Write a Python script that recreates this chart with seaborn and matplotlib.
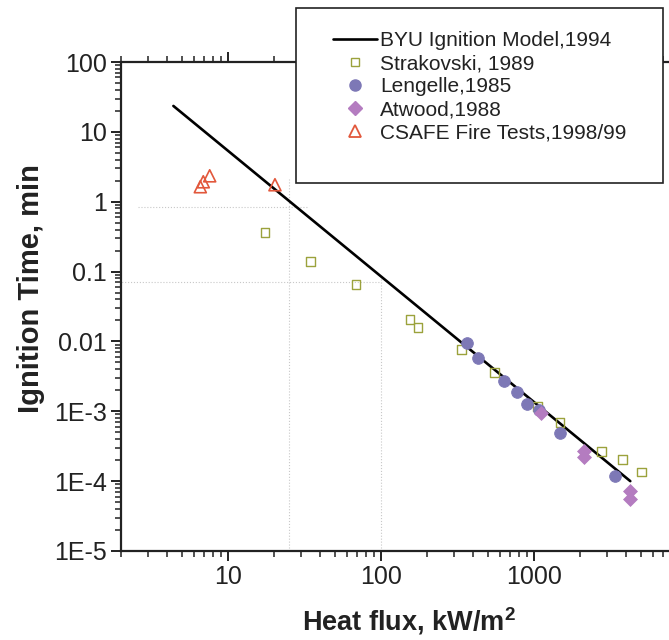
import matplotlib
matplotlib.use("Agg")
import matplotlib.pyplot as plt
import seaborn as sns
from matplotlib.ticker import FixedLocator, FixedFormatter, LogLocator, NullFormatter
from matplotlib.patches import Rectangle
from matplotlib.lines import Line2D

# BYU ignition model (straight line on log-log axes)
model_flux = [4.4, 4270]
model_time = [23.5, 1.0e-4]

# Strakovski, 1989
strak_flux = [17.5, 34.8, 68.7, 155, 175, 338, 556, 1062, 1480, 2780, 3815, 5080]
strak_time = [0.36, 0.139, 0.065, 0.0206, 0.0158, 0.0077, 0.0036, 1.18e-3, 6.97e-4, 2.68e-4, 2.06e-4, 1.35e-4]

# Lengelle, 1985
leng_flux = [365, 430, 637, 774, 900, 1080, 1480, 3380]
leng_time = [9.4e-3, 5.7e-3, 2.68e-3, 1.87e-3, 1.26e-3, 1.05e-3, 4.85e-4, 1.18e-4]

# Atwood, 1988
atw_flux = [1120, 2120, 2120, 4240, 4240]
atw_time = [9.5e-4, 2.68e-4, 2.2e-4, 7.2e-5, 5.5e-5]

# CSAFE fire tests, 1998/99
csafe_flux = [6.6, 6.9, 7.6, 20.3]
csafe_time = [1.64, 1.93, 2.35, 1.75]

y_ticks = [1e-5, 1e-4, 1e-3, 1e-2, 1e-1, 1, 10, 100]
y_tick_labels = ['1E-5', '1E-4', '1E-3', '0.01', '0.1', '1', '10', '100']
x_ticks = [10, 100, 1000]
x_tick_labels = ['10', '100', '1000']

labels = ['BYU Ignition Model,1994', 'Strakovski, 1989', 'Lengelle,1985',
          'Atwood,1988', 'CSAFE Fire Tests,1998/99']

c_strak = '#9ba23c'
c_leng = '#7d78b6'
c_atw = '#b47cc0'
c_csafe = '#e2583c'

sns.set_style("ticks")
plt.rcParams['font.family'] = ['Liberation Sans', 'DejaVu Sans']

fig = plt.figure(figsize=(6.69, 6.40), dpi=100)
ax = fig.add_axes([121 / 669, 89 / 640, 551 / 669, 489 / 640])

ax.set_xscale('log')
ax.set_yscale('log')
ax.set_xlim(2, 8000)
ax.set_ylim(1e-5, 100)

# faint cross-hair lines seen in the original
for yv, x0, x1 in [(0.85, 0.03, 0.34), (0.07, -0.03, 0.47)]:
    ax.axhline(yv, x0, x1, color='#c8c8c8', lw=0.8, ls=':', zorder=0)
for xv, y0, y1 in [(25, 0, 0.76), (100, 0, 0.56)]:
    ax.axvline(xv, y0, y1, color='#c8c8c8', lw=0.8, ls=':', zorder=0)

sns.lineplot(x=model_flux, y=model_time, color='black', linewidth=1.9, ax=ax, zorder=3)

sns.scatterplot(x=strak_flux, y=strak_time, marker='s', s=40, color=c_strak, ax=ax, zorder=4)
ax.collections[-1].set_facecolor('none')
ax.collections[-1].set_edgecolor(c_strak)
ax.collections[-1].set_linewidth(1.0)

sns.scatterplot(x=leng_flux, y=leng_time, marker='o', s=70, color=c_leng, edgecolor=c_leng, ax=ax, zorder=5)
sns.scatterplot(x=atw_flux, y=atw_time, marker='D', s=50, color=c_atw, edgecolor=c_atw, ax=ax, zorder=6)

sns.scatterplot(x=csafe_flux, y=csafe_time, marker='^', s=75, color=c_csafe, ax=ax, zorder=4)
ax.collections[-1].set_facecolor('none')
ax.collections[-1].set_edgecolor(c_csafe)
ax.collections[-1].set_linewidth(1.2)

# axes styling
for side in ['left', 'bottom', 'top', 'right']:
    ax.spines[side].set_visible(True)
    ax.spines[side].set_linewidth(1.6)
    ax.spines[side].set_color('#222222')

ax.yaxis.set_major_locator(FixedLocator(y_ticks))
ax.yaxis.set_major_formatter(FixedFormatter(y_tick_labels))
ax.yaxis.set_minor_locator(LogLocator(base=10, subs=range(2, 10), numticks=100))
ax.yaxis.set_minor_formatter(NullFormatter())
ax.xaxis.set_major_locator(FixedLocator(x_ticks))
ax.xaxis.set_major_formatter(FixedFormatter(x_tick_labels))
ax.xaxis.set_minor_locator(LogLocator(base=10, subs=range(2, 10), numticks=100))
ax.xaxis.set_minor_formatter(NullFormatter())

ax.tick_params(axis='both', which='major', direction='out', length=7, width=1.4,
               labelsize=18, colors='#222222', pad=3, top=True)
ax.tick_params(axis='both', which='minor', direction='out', length=4, width=1.1,
               colors='#222222', top=True)
ax.tick_params(axis='y', which='both', right=False)

ax.set_xlabel('Heat flux, kW/m$^{\\mathregular{2}}$', fontsize=19.5, fontweight='bold', color='#222222')
ax.set_ylabel('Ignition Time, min', fontsize=21, fontweight='bold', color='#222222')
ax.xaxis.label.set_verticalalignment('baseline')
ax.xaxis.set_label_coords(0.5 + 12 / 551, -0.1616)
ax.yaxis.set_label_coords(-0.138, 0.536)

# legend box drawn in figure coordinates over the top spine
frame = Rectangle((296 / 669, 457 / 640), 367 / 669, 175 / 640, transform=fig.transFigure,
                  facecolor='white', edgecolor='#222222', linewidth=1.2, zorder=10)
fig.patches.append(frame)

handles = [
    Line2D([], [], color='black', lw=1.9),
    Line2D([], [], ls='none', marker='s', ms=6, mfc='none', mec=c_strak, mew=1.0),
    Line2D([], [], ls='none', marker='o', ms=8, mfc=c_leng, mec=c_leng),
    Line2D([], [], ls='none', marker='D', ms=7, mfc=c_atw, mec=c_atw),
    Line2D([], [], ls='none', marker='^', ms=8, mfc='none', mec=c_csafe, mew=1.3),
]
leg = fig.legend(handles, labels, loc='upper left', bbox_to_anchor=(333 / 669, 609 / 640),
                 frameon=False, fontsize=15, handlelength=2.1, handletextpad=0.15,
                 labelspacing=0.2, borderpad=0, borderaxespad=0)
leg.set_zorder(11)
for t in leg.get_texts():
    t.set_color('#222222')

fig.savefig('out.png', dpi=100)
